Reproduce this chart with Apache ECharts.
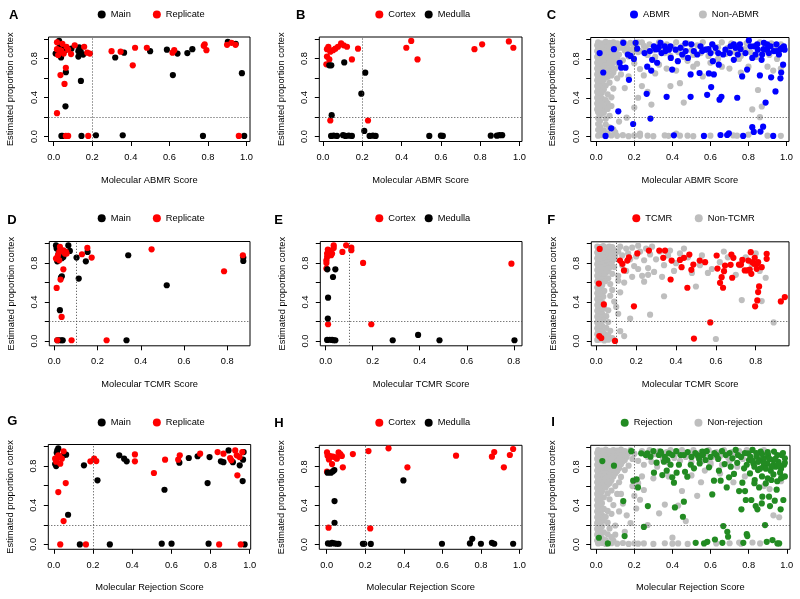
<!DOCTYPE html>
<html lang="en">
<head>
<meta charset="UTF-8">
<title>Estimated proportion cortex vs molecular scores</title>
<script src="https://cdn.jsdelivr.net/npm/echarts@6/dist/echarts.min.js"></script>
<style>
    body { margin: 0; background: #fff; }
    #chart { width: 800px; height: 599px; }
</style>
</head>
<body>
<div id="chart"></div>
<script type="text/javascript">
// values, [score, proportion cortex]
// A
var abmrMain = [[0.01,0.85],[0.028,0.98],[0.035,0.95],[0.031,0.92],[0.038,0.81],[0.049,0.9],[0.059,0.885],[0.063,0.66],[0.061,0.31],[0.092,0.9],[0.128,0.875],[0.132,0.915],[0.128,0.82],[0.141,0.57],[0.153,0.84],[0.14,0.87],[0.04,0.007],[0.046,0.007],[0.144,0.007],[0.219,0.014],[0.319,0.81],[0.358,0.014],[0.365,0.86],[0.5,0.875],[0.587,0.89],[0.618,0.63],[0.642,0.85],[0.693,0.855],[0.719,0.895],[0.774,0.007],[0.903,0.97],[0.944,0.95],[0.976,0.65],[0.988,0.007]];
var abmrRep = [[0.017,0.965],[0.017,0.895],[0.023,0.835],[0.038,0.88],[0.052,0.85],[0.045,0.95],[0.075,0.89],[0.066,0.92],[0.09,0.845],[0.109,0.935],[0.035,0.63],[0.063,0.705],[0.056,0.54],[0.017,0.24],[0.063,0.007],[0.075,0.007],[0.179,0.007],[0.158,0.92],[0.174,0.86],[0.188,0.85],[0.031,0.885],[0.3,0.875],[0.347,0.87],[0.41,0.73],[0.422,0.91],[0.483,0.91],[0.616,0.86],[0.625,0.885],[0.778,0.93],[0.783,0.945],[0.792,0.885],[0.899,0.94],[0.922,0.96],[0.943,0.94],[0.96,0.007]];
// B
var abmrCortex = [[0.02,0.895],[0.027,0.92],[0.02,0.82],[0.017,0.74],[0.032,0.79],[0.037,0.87],[0.051,0.885],[0.063,0.9],[0.076,0.92],[0.092,0.955],[0.105,0.935],[0.122,0.92],[0.147,0.79],[0.178,0.9],[0.037,0.165],[0.229,0.165],[0.424,0.91],[0.449,0.98],[0.481,0.79],[0.771,0.895],[0.81,0.945],[0.946,0.975],[0.969,0.91]];
var abmrMedulla = [[0.032,0.73],[0.042,0.73],[0.108,0.76],[0.215,0.655],[0.195,0.44],[0.044,0.22],[0.21,0.058],[0.041,0.007],[0.054,0.01],[0.071,0.007],[0.102,0.015],[0.114,0.007],[0.131,0.01],[0.147,0.007],[0.237,0.007],[0.254,0.01],[0.268,0.007],[0.541,0.007],[0.6,0.01],[0.61,0.007],[0.854,0.01],[0.885,0.01],[0.898,0.015],[0.912,0.015]];
// C
var abmrYes = [[0.018,0.86],[0.037,0.66],[0.049,0.007],[0.079,0.086],[0.093,0.9],[0.123,0.76],[0.116,0.26],[0.131,0.71],[0.142,0.965],[0.154,0.71],[0.166,0.845],[0.172,0.585],[0.18,0.83],[0.194,0.13],[0.207,0.965],[0.215,0.905],[0.198,0.8],[0.265,0.44],[0.254,0.86],[0.268,0.72],[0.282,0.88],[0.285,0.186],[0.289,0.68],[0.294,0.79],[0.303,0.93],[0.312,0.9],[0.32,0.76],[0.329,0.92],[0.338,0.965],[0.343,0.86],[0.364,0.88],[0.37,0.41],[0.382,0.895],[0.39,0.93],[0.392,0.81],[0.399,0.69],[0.408,0.014],[0.417,0.895],[0.429,0.776],[0.443,0.914],[0.452,0.845],[0.469,0.96],[0.482,0.81],[0.496,0.64],[0.496,0.41],[0.513,0.88],[0.531,0.845],[0.543,0.655],[0.548,0.93],[0.557,0.88],[0.566,0.007],[0.574,0.895],[0.583,0.43],[0.592,0.65],[0.601,0.86],[0.604,0.51],[0.613,0.776],[0.618,0.64],[0.627,0.914],[0.641,0.86],[0.644,0.74],[0.648,0.38],[0.653,0.017],[0.658,0.41],[0.667,0.845],[0.679,0.895],[0.688,0.017],[0.697,0.034],[0.702,0.86],[0.706,0.93],[0.723,0.79],[0.732,0.914],[0.741,0.4],[0.744,0.845],[0.755,0.95],[0.767,0.62],[0.772,0.007],[0.784,0.86],[0.793,0.69],[0.802,0.99],[0.811,0.93],[0.82,0.097],[0.828,0.048],[0.82,0.81],[0.837,0.845],[0.846,0.95],[0.849,0.895],[0.86,0.63],[0.863,0.052],[0.869,0.79],[0.872,0.845],[0.877,0.103],[0.881,0.965],[0.89,0.35],[0.898,0.895],[0.907,0.86],[0.916,0.93],[0.919,0.61],[0.93,0.007],[0.933,0.88],[0.942,0.465],[0.947,0.95],[0.96,0.845],[0.968,0.6],[0.972,0.66],[0.977,0.914],[0.982,0.74],[0.986,0.93],[0.99,0.895],[0.723,0.95],[0.758,0.9],[0.83,0.93],[0.898,0.95],[0.968,0.9],[0.95,0.88],[0.88,0.9],[0.61,0.95],[0.59,0.9],[0.5,0.95],[0.47,0.88],[0.36,0.93],[0.32,0.9]];
var abmrNo = [[0.01,0.97],[0.03,0.96],[0.05,0.975],[0.07,0.965],[0.09,0.97],[0.11,0.96],[0.14,0.975],[0.18,0.965],[0.22,0.97],
  [0.005,0.94],[0.02,0.935],[0.04,0.945],[0.06,0.93],[0.08,0.94],[0.1,0.935],[0.12,0.945],[0.16,0.93],[0.2,0.94],[0.25,0.935],
  [0.01,0.91],[0.03,0.905],[0.05,0.915],[0.07,0.9],[0.09,0.91],[0.11,0.905],[0.13,0.915],[0.19,0.9],
  [0.005,0.88],[0.02,0.875],[0.04,0.885],[0.06,0.87],[0.08,0.88],[0.1,0.875],[0.15,0.885],[0.22,0.87],
  [0.01,0.85],[0.03,0.845],[0.05,0.855],[0.07,0.84],[0.09,0.85],[0.12,0.845],
  [0.005,0.82],[0.02,0.815],[0.04,0.825],[0.06,0.81],[0.08,0.82],[0.11,0.815],[0.17,0.825],
  [0.01,0.79],[0.03,0.785],[0.05,0.795],[0.07,0.78],[0.1,0.79],[0.14,0.785],
  [0.005,0.76],[0.02,0.755],[0.04,0.765],[0.06,0.75],[0.09,0.76],[0.2,0.755],
  [0.01,0.73],[0.03,0.725],[0.05,0.735],[0.08,0.72],[0.12,0.73],
  [0.005,0.7],[0.02,0.695],[0.04,0.705],[0.07,0.69],[0.1,0.7],[0.23,0.695],
  [0.01,0.67],[0.03,0.665],[0.06,0.675],[0.09,0.66],
  [0.005,0.64],[0.02,0.635],[0.05,0.645],[0.08,0.63],[0.13,0.64],
  [0.01,0.61],[0.03,0.605],[0.06,0.615],[0.11,0.6],
  [0.005,0.58],[0.02,0.575],[0.04,0.585],[0.01,0.55],[0.03,0.545],[0.07,0.555],
  [0.005,0.52],[0.02,0.515],[0.05,0.525],[0.01,0.49],[0.04,0.485],[0.09,0.495],
  [0.005,0.46],[0.03,0.455],[0.01,0.43],[0.02,0.425],[0.06,0.435],
  [0.005,0.4],[0.03,0.395],[0.08,0.405],[0.01,0.37],[0.02,0.365],[0.05,0.375],
  [0.005,0.34],[0.03,0.335],[0.06,0.345],[0.01,0.31],[0.04,0.305],[0.08,0.315],
  [0.005,0.28],[0.02,0.275],[0.06,0.285],[0.01,0.25],[0.04,0.245],
  [0.02,0.22],[0.07,0.215],[0.01,0.19],[0.05,0.185],[0.16,0.195],
  [0.02,0.16],[0.12,0.155],[0.01,0.13],[0.05,0.125],[0.02,0.1],[0.07,0.095],
  [0.01,0.07],[0.04,0.065],[0.09,0.075],[0.02,0.04],[0.06,0.035],[0.1,0.045],
  [0.01,0.01],[0.03,0.015],[0.05,0.005],[0.08,0.012],[0.11,0.008],[0.14,0.015],[0.17,0.005],[0.2,0.012],[0.23,0.008],[0.27,0.01],[0.3,0.005],[0.36,0.012],[0.38,0.008],[0.44,0.01],[0.51,0.005],[0.6,0.01],[0.72,0.012],[0.97,0.008],
  [0.27,0.46],[0.29,0.33],[0.31,0.65],[0.37,0.7],[0.39,0.52],[0.44,0.55],[0.46,0.35],[0.42,0.68],[0.51,0.72],[0.56,0.62],[0.6,0.76],[0.66,0.72],[0.7,0.7],[0.76,0.66],[0.8,0.72],[0.82,0.28],[0.85,0.48],[0.86,0.2],[0.87,0.31],[0.9,0.72],[0.93,0.68],[0.97,0.7],[0.24,0.52],[0.22,0.4],[0.2,0.3],[0.15,0.5],[0.17,0.62],[0.25,0.63],[0.33,0.74],[0.48,0.78],[0.53,0.75],[0.64,0.8],[0.75,0.8],[0.95,0.8],[0.74,0.01],[0.8,0.02],[0.9,0.01],[0.42,0.03],[0.48,0.01],[0.23,0.03],
  [0.15,0.96],[0.17,0.9],[0.19,0.86],[0.21,0.93],[0.23,0.88],[0.24,0.97],[0.26,0.91],[0.27,0.84],[0.28,0.95],[0.3,0.89],[0.31,0.82],[0.33,0.97],[0.34,0.91],[0.36,0.86],[0.37,0.95],[0.39,0.83],[0.4,0.92],[0.42,0.97],[0.43,0.87],[0.45,0.93],[0.46,0.82],[0.48,0.96],[0.5,0.89],[0.51,0.84],[0.53,0.94],[0.55,0.86],[0.56,0.97],[0.58,0.9],[0.59,0.83],[0.61,0.95],[0.63,0.88],[0.64,0.92],[0.66,0.97],[0.68,0.85],[0.69,0.91],[0.71,0.96],[0.73,0.87],[0.74,0.93],[0.76,0.83],[0.78,0.9],[0.79,0.96],[0.81,0.87],[0.83,0.93],[0.84,0.82],[0.86,0.97],[0.88,0.88],[0.89,0.93],[0.91,0.84],[0.92,0.96],[0.94,0.9],[0.96,0.86],[0.97,0.95],[0.98,0.91]];
// D
var tcmrMain = [[0.008,0.98],[0.011,0.947],[0.014,0.817],[0.02,0.896],[0.018,0.86],[0.023,0.93],[0.014,0.007],[0.023,0.007],[0.034,0.007],[0.039,0.007],[0.026,0.315],[0.031,0.65],[0.035,0.663],[0.035,0.848],[0.042,0.862],[0.065,0.98],[0.072,0.923],[0.103,0.855],[0.113,0.64],[0.146,0.817],[0.154,0.913],[0.342,0.879],[0.334,0.007],[0.52,0.571],[0.874,0.855],[0.874,0.82]];
var tcmrRep = [[0.011,0.544],[0.014,0.007],[0.017,0.879],[0.026,0.964],[0.023,0.913],[0.029,0.629],[0.034,0.246],[0.042,0.735],[0.042,0.93],[0.049,0.896],[0.054,0.913],[0.057,0.896],[0.08,0.007],[0.128,0.889],[0.153,0.954],[0.173,0.855],[0.242,0.007],[0.45,0.94],[0.785,0.715],[0.872,0.879],[0.014,0.855],[0.023,0.827],[0.008,0.845]];
// E
var tcmrCortex = [[0.003,0.742],[0.003,0.8],[0.003,0.827],[0.006,0.896],[0.009,0.937],[0.013,0.879],[0.02,0.903],[0.027,0.896],[0.034,0.981],[0.034,0.954],[0.071,0.913],[0.087,0.981],[0.109,0.957],[0.109,0.93],[0.159,0.8],[0.01,0.171],[0.194,0.171],[0.79,0.793],[0.006,0.862],[0.013,0.93],[0.023,0.879]];
var tcmrMedulla = [[0.007,0.735],[0.041,0.735],[0.031,0.656],[0.01,0.444],[0.009,0.229],[0.006,0.01],[0.017,0.012],[0.027,0.01],[0.034,0.007],[0.041,0.007],[0.285,0.007],[0.393,0.062],[0.484,0.007],[0.803,0.007]];
// F
var tcmrYes = [[0.017,0.947],[0.038,0.376],[0.094,0.0],[0.119,0.827],[0.131,0.793],[0.139,0.725],[0.156,0.827],[0.164,0.86],[0.189,0.356],[0.206,0.9],[0.264,0.93],[0.316,0.93],[0.336,0.855],[0.345,0.93],[0.373,0.632],[0.378,0.827],[0.42,0.834],[0.428,0.759],[0.44,0.855],[0.457,0.547],[0.467,0.889],[0.477,0.732],[0.487,0.786],[0.49,0.024],[0.519,0.827],[0.546,0.81],[0.572,0.19],[0.604,0.879],[0.608,0.745],[0.621,0.598],[0.629,0.656],[0.636,0.547],[0.641,0.718],[0.646,0.776],[0.674,0.783],[0.678,0.889],[0.682,0.65],[0.688,0.855],[0.716,0.786],[0.726,0.786],[0.733,0.834],[0.745,0.725],[0.758,0.725],[0.763,0.827],[0.77,0.735],[0.775,0.913],[0.778,0.69],[0.783,0.81],[0.792,0.793],[0.795,0.855],[0.797,0.356],[0.805,0.793],[0.805,0.742],[0.812,0.81],[0.812,0.503],[0.817,0.561],[0.808,0.417],[0.83,0.759],[0.855,0.896],[0.855,0.845],[0.926,0.407],[0.946,0.451],[0.013,0.59],[0.015,0.05],[0.025,0.03]];
var tcmrNo = [[0.005,0.97],[0.02,0.965],[0.035,0.975],[0.05,0.96],[0.065,0.97],[0.08,0.965],
  [0.01,0.94],[0.025,0.935],[0.04,0.945],[0.055,0.93],[0.07,0.94],[0.09,0.935],
  [0.005,0.91],[0.02,0.905],[0.035,0.915],[0.05,0.9],[0.065,0.91],[0.085,0.905],[0.1,0.915],
  [0.01,0.88],[0.025,0.875],[0.04,0.885],[0.06,0.87],[0.075,0.88],[0.095,0.875],
  [0.005,0.85],[0.02,0.845],[0.035,0.855],[0.05,0.84],[0.07,0.85],[0.09,0.845],
  [0.01,0.82],[0.025,0.815],[0.045,0.825],[0.06,0.81],[0.08,0.82],
  [0.005,0.79],[0.02,0.785],[0.035,0.795],[0.055,0.78],[0.075,0.79],
  [0.01,0.76],[0.025,0.755],[0.045,0.765],[0.065,0.75],[0.09,0.76],
  [0.005,0.73],[0.02,0.725],[0.04,0.735],[0.06,0.72],
  [0.01,0.7],[0.03,0.695],[0.05,0.705],[0.08,0.69],
  [0.005,0.67],[0.02,0.665],[0.04,0.675],[0.01,0.64],[0.03,0.635],[0.06,0.645],
  [0.005,0.61],[0.02,0.605],[0.045,0.615],[0.01,0.58],[0.03,0.575],[0.07,0.585],
  [0.005,0.55],[0.025,0.545],[0.01,0.52],[0.04,0.515],[0.08,0.525],
  [0.005,0.49],[0.02,0.485],[0.01,0.46],[0.035,0.455],[0.07,0.465],
  [0.005,0.43],[0.02,0.425],[0.01,0.4],[0.03,0.395],[0.09,0.405],
  [0.005,0.37],[0.02,0.365],[0.01,0.34],[0.04,0.335],
  [0.005,0.31],[0.025,0.305],[0.06,0.315],[0.01,0.28],[0.03,0.275],
  [0.005,0.25],[0.02,0.245],[0.05,0.255],[0.01,0.22],[0.035,0.215],
  [0.005,0.19],[0.02,0.185],[0.06,0.195],[0.01,0.16],[0.03,0.155],
  [0.005,0.13],[0.02,0.125],[0.05,0.135],[0.01,0.1],[0.03,0.095],[0.07,0.105],
  [0.005,0.07],[0.02,0.065],[0.04,0.075],[0.06,0.06],
  [0.01,0.04],[0.03,0.035],[0.05,0.045],[0.08,0.03],
  [0.005,0.01],[0.02,0.015],[0.04,0.005],[0.06,0.012],[0.09,0.008],
  [0.11,0.92],[0.12,0.97],[0.13,0.88],[0.15,0.95],[0.16,0.9],[0.17,0.84],[0.18,0.96],[0.19,0.77],[0.2,0.87],[0.21,0.98],[0.22,0.92],[0.23,0.67],[0.24,0.83],[0.25,0.95],[0.26,0.75],[0.27,0.89],[0.28,0.97],[0.29,0.71],[0.3,0.84],[0.32,0.92],[0.33,0.66],[0.34,0.78],[0.36,0.88],[0.37,0.93],[0.39,0.72],[0.4,0.8],[0.42,0.9],[0.44,0.95],[0.46,0.86],[0.48,0.7],[0.5,0.56],[0.52,0.78],[0.53,0.88],[0.56,0.7],[0.58,0.74],[0.6,0.02],[0.62,0.81],[0.64,0.92],[0.66,0.86],[0.7,0.68],[0.72,0.78],[0.73,0.42],[0.75,0.86],[0.78,0.79],[0.8,0.9],[0.82,0.72],[0.83,0.41],[0.85,0.65],[0.89,0.19],
  [0.11,0.28],[0.12,0.1],[0.14,0.05],[0.17,0.23],[0.27,0.27],[0.34,0.46],[0.14,0.6],[0.12,0.5],[0.15,0.72],[0.13,0.78],[0.11,0.67],[0.1,0.35],[0.11,0.62],[0.18,0.66],[0.21,0.74],[0.24,0.61],[0.26,0.68]];
// G
var rejMain = [[0.012,0.8],[0.015,0.936],[0.018,0.96],[0.023,0.98],[0.05,0.91],[0.063,0.916],[0.073,0.303],[0.133,0.0],[0.154,0.807],[0.223,0.654],[0.286,0.0],[0.334,0.909],[0.359,0.875],[0.372,0.848],[0.551,0.007],[0.565,0.558],[0.601,0.007],[0.641,0.834],[0.689,0.882],[0.734,0.9],[0.785,0.626],[0.795,0.892],[0.79,0.007],[0.853,0.848],[0.866,0.84],[0.892,0.96],[0.914,0.84],[0.949,0.807],[0.964,0.647],[0.966,0.865],[0.969,0.943],[0.974,0.0],[0.007,0.82]];
var rejRep = [[0.007,0.875],[0.012,0.845],[0.018,0.89],[0.029,0.9],[0.033,0.824],[0.041,0.875],[0.05,0.95],[0.023,0.91],[0.023,0.534],[0.033,0.0],[0.05,0.238],[0.061,0.626],[0.164,0.0],[0.187,0.848],[0.206,0.875],[0.217,0.851],[0.414,0.919],[0.414,0.848],[0.511,0.729],[0.568,0.865],[0.635,0.865],[0.643,0.909],[0.747,0.926],[0.844,0.0],[0.836,0.943],[0.866,0.926],[0.9,0.882],[0.906,0.858],[0.926,0.96],[0.934,0.909],[0.937,0.705],[0.948,0.892],[0.954,0.0],[0.962,0.943]];
// H
var rejCortex = [[0.002,0.749],[0.002,0.947],[0.005,0.913],[0.012,0.875],[0.019,0.91],[0.028,0.827],[0.033,0.903],[0.045,0.896],[0.053,0.882],[0.062,0.947],[0.071,0.93],[0.079,0.91],[0.084,0.793],[0.01,0.172],[0.136,0.93],[0.217,0.961],[0.226,0.165],[0.321,0.989],[0.419,0.793],[0.671,0.913],[0.857,0.903],[0.869,0.951],[0.919,0.793],[0.95,0.92],[0.967,0.982]];
var rejMedulla = [[0.005,0.738],[0.022,0.738],[0.033,0.752],[0.04,0.766],[0.041,0.446],[0.041,0.223],[0.007,0.01],[0.019,0.007],[0.028,0.017],[0.04,0.01],[0.053,0.007],[0.062,0.007],[0.188,0.007],[0.195,0.007],[0.229,0.005],[0.398,0.659],[0.598,0.007],[0.743,0.01],[0.755,0.058],[0.8,0.007],[0.857,0.017],[0.869,0.007],[0.967,0.007]];
// I
var rejYes = [[0.032,0.858],[0.014,0.069],[0.061,0.01],[0.093,0.81],[0.142,0.446],[0.149,0.086],[0.194,0.656],[0.212,0.67],[0.219,0.587],[0.184,0.96],[0.25,0.18],[0.271,0.395],[0.236,0.937],[0.268,0.937],[0.285,0.903],[0.303,0.738],[0.317,0.841],[0.329,0.92],[0.338,0.955],[0.347,0.714],[0.355,0.851],[0.37,0.759],[0.373,0.869],[0.382,0.937],[0.39,0.82],[0.399,0.69],[0.408,0.635],[0.413,0.381],[0.422,0.738],[0.434,0.82],[0.443,0.92],[0.455,0.285],[0.46,0.44],[0.466,0.748],[0.478,0.697],[0.496,0.82],[0.513,0.783],[0.522,0.017],[0.531,0.92],[0.543,0.834],[0.557,0.955],[0.566,0.01],[0.574,0.869],[0.583,0.027],[0.592,0.793],[0.609,0.515],[0.618,0.656],[0.623,0.051],[0.632,0.92],[0.644,0.759],[0.653,0.656],[0.662,0.017],[0.667,0.189],[0.674,0.827],[0.685,0.587],[0.688,0.13],[0.692,0.079],[0.697,0.69],[0.706,0.8],[0.715,0.886],[0.723,0.725],[0.732,0.972],[0.744,0.92],[0.75,0.549],[0.762,0.361],[0.767,0.635],[0.772,0.017],[0.776,0.783],[0.781,0.549],[0.785,0.457],[0.79,0.106],[0.793,0.086],[0.797,0.937],[0.802,0.869],[0.807,0.731],[0.814,0.457],[0.82,0.972],[0.825,0.834],[0.832,0.663],[0.837,0.395],[0.842,0.903],[0.846,0.361],[0.849,0.765],[0.855,0.587],[0.86,0.869],[0.863,0.955],[0.869,0.422],[0.872,0.491],[0.877,0.8],[0.881,0.886],[0.886,0.199],[0.89,0.628],[0.895,0.027],[0.898,0.834],[0.902,0.92],[0.907,0.491],[0.912,0.395],[0.916,0.759],[0.919,0.663],[0.925,0.045],[0.93,0.869],[0.933,0.955],[0.937,0.45],[0.942,0.8],[0.947,0.563],[0.951,0.01],[0.956,0.851],[0.96,0.01],[0.965,0.738],[0.968,0.361],[0.972,0.92],[0.977,0.69],[0.982,0.457],[0.986,0.82],[0.99,0.886],
  [0.81,0.9],[0.83,0.8],[0.85,0.85],[0.87,0.93],[0.89,0.78],[0.91,0.88],[0.93,0.82],[0.95,0.92],[0.97,0.78],[0.99,0.84],[0.82,0.86],[0.84,0.94],[0.86,0.78],[0.88,0.84],[0.9,0.95],[0.92,0.8],[0.94,0.88],[0.96,0.82],[0.98,0.94],[0.76,0.9],[0.78,0.94],[0.79,0.82],[0.74,0.84],[0.7,0.94],[0.68,0.92],[0.66,0.96],[0.64,0.88],[0.62,0.94],[0.6,0.9],[0.58,0.96],[0.56,0.92],[0.54,0.88],[0.52,0.94],[0.5,0.9],[0.48,0.95],[0.46,0.92],[0.42,0.96],[0.4,0.92],[0.36,0.9],[0.34,0.94],[0.3,0.96],[0.26,0.92],[0.83,0.63],[0.87,0.7],[0.9,0.68],[0.93,0.72],[0.95,0.65],[0.97,0.68],[0.99,0.7]];
var rejNo = [[0.01,0.97],[0.03,0.965],[0.05,0.975],[0.07,0.96],[0.09,0.97],[0.11,0.965],[0.13,0.975],[0.15,0.96],[0.18,0.97],
  [0.005,0.94],[0.02,0.935],[0.04,0.945],[0.06,0.93],[0.08,0.94],[0.1,0.935],[0.12,0.945],[0.14,0.93],[0.17,0.94],[0.2,0.935],
  [0.01,0.91],[0.03,0.905],[0.05,0.915],[0.07,0.9],[0.09,0.91],[0.11,0.905],[0.13,0.915],[0.16,0.9],
  [0.005,0.88],[0.02,0.875],[0.04,0.885],[0.06,0.87],[0.08,0.88],[0.1,0.875],[0.12,0.885],[0.15,0.87],[0.19,0.88],
  [0.01,0.85],[0.03,0.845],[0.05,0.855],[0.07,0.84],[0.09,0.85],[0.11,0.845],[0.14,0.855],
  [0.005,0.82],[0.02,0.815],[0.04,0.825],[0.06,0.81],[0.08,0.82],[0.1,0.815],[0.13,0.825],[0.17,0.81],
  [0.01,0.79],[0.03,0.785],[0.05,0.795],[0.07,0.78],[0.09,0.79],[0.12,0.785],
  [0.005,0.76],[0.02,0.755],[0.04,0.765],[0.06,0.75],[0.08,0.76],[0.11,0.755],[0.15,0.765],
  [0.01,0.73],[0.03,0.725],[0.05,0.735],[0.07,0.72],[0.1,0.73],
  [0.005,0.7],[0.02,0.695],[0.04,0.705],[0.06,0.69],[0.09,0.7],[0.13,0.695],
  [0.01,0.67],[0.03,0.665],[0.05,0.675],[0.08,0.66],
  [0.005,0.64],[0.02,0.635],[0.04,0.645],[0.07,0.63],[0.12,0.64],
  [0.01,0.61],[0.03,0.605],[0.06,0.615],[0.1,0.6],
  [0.005,0.58],[0.02,0.575],[0.05,0.585],[0.01,0.55],[0.03,0.545],[0.08,0.555],
  [0.005,0.52],[0.02,0.515],[0.06,0.525],[0.11,0.52],[0.01,0.49],[0.04,0.485],
  [0.005,0.46],[0.02,0.455],[0.07,0.465],[0.01,0.43],[0.03,0.425],
  [0.005,0.4],[0.02,0.395],[0.09,0.405],[0.01,0.37],[0.04,0.365],
  [0.005,0.34],[0.02,0.335],[0.06,0.345],[0.12,0.34],[0.01,0.31],[0.03,0.305],[0.08,0.315],
  [0.005,0.28],[0.02,0.275],[0.05,0.285],[0.01,0.25],[0.04,0.245],
  [0.005,0.22],[0.02,0.215],[0.06,0.225],[0.01,0.19],[0.03,0.185],[0.1,0.195],
  [0.005,0.16],[0.02,0.155],[0.07,0.165],[0.01,0.13],[0.04,0.125],
  [0.005,0.1],[0.02,0.095],[0.06,0.105],[0.1,0.1],[0.01,0.07],[0.03,0.065],[0.08,0.075],
  [0.005,0.04],[0.02,0.035],[0.05,0.045],[0.09,0.04],
  [0.01,0.01],[0.03,0.015],[0.05,0.005],[0.08,0.012],[0.11,0.008],[0.14,0.015],[0.17,0.005],[0.2,0.012],[0.22,0.008],[0.25,0.01],[0.3,0.005],[0.36,0.012],[0.4,0.008],[0.43,0.01],[0.48,0.005],[0.63,0.01],[0.7,0.012],[0.76,0.008],[0.86,0.01],
  [0.13,0.52],[0.14,0.42],[0.16,0.3],[0.18,0.22],[0.15,0.13],[0.2,0.5],[0.21,0.37],[0.19,0.6],[0.22,0.63],[0.24,0.7],[0.23,0.46],[0.27,0.2],[0.25,0.56],[0.3,0.68],[0.33,0.32],[0.36,0.41],[0.38,0.7],[0.4,0.07],[0.43,0.4],[0.45,0.55],[0.47,0.24],[0.5,0.71],[0.53,0.5],[0.55,0.64],[0.57,0.76],[0.6,0.82],[0.65,0.73],[0.72,0.64],[0.75,0.02],[0.78,0.7],[0.82,0.02],[0.88,0.6],[0.91,0.57],[0.93,0.3],[0.96,0.28],[0.97,0.65],
  [0.2,0.93],[0.22,0.86],[0.24,0.96],[0.25,0.82],[0.27,0.9],[0.28,0.97],[0.29,0.85],[0.31,0.93],[0.32,0.8],[0.33,0.96],[0.35,0.88],[0.37,0.95],[0.38,0.84],[0.39,0.97],[0.41,0.89],[0.43,0.94],[0.44,0.86],[0.45,0.97],[0.47,0.9],[0.49,0.93],[0.5,0.85],[0.51,0.97],[0.53,0.91],[0.55,0.95],[0.56,0.86],[0.57,0.93],[0.59,0.97],[0.61,0.9],[0.63,0.95],[0.65,0.91],[0.67,0.97],[0.69,0.9],[0.71,0.95],[0.73,0.92],[0.75,0.96],[0.77,0.88],[0.79,0.97],[0.8,0.93],[0.82,0.97],[0.85,0.92],[0.88,0.97],[0.6,0.84],[0.66,0.82],[0.7,0.86],[0.74,0.8]];

var xTicks10 = [0, 0.2, 0.4, 0.6, 0.8, 1.0];
var xTicks08 = [0, 0.2, 0.4, 0.6, 0.8];
var yTicks = [0, 0.2, 0.4, 0.6, 0.8, 1.0];
var yLabels = [0, 0.4, 0.8];
var cutY = 0.2;

var RED = '#ff0000', BLACK = '#000000', BLUE = '#0000ff', GRAY = '#bebebe', GREEN = '#228b22';
var FONT = 'Liberation Sans, Arial, sans-serif';

// layout of the 3x3 panels: box [left, top, width, height], x range, letter/legend spots
var panels = [
    {letter: 'A', box: [48.5, 37, 201.5, 104.5], x: [-0.027, 1.018], xt: xTicks10, cut: 0.2, xname: 'Molecular ABMR Score',
        series: [['Main', abmrMain, BLACK], ['Replicate', abmrRep, RED]], legend: ['Main', 'Replicate'], lx: 97.7, ly: 14, gap: 22, tx: 9, ty: 14},
    {letter: 'B', box: [319.3, 37, 202.7, 104.5], x: [-0.019, 1.013], xt: xTicks10, cut: 0.2, xname: 'Molecular ABMR Score',
        series: [['Cortex', abmrCortex, RED], ['Medulla', abmrMedulla, BLACK]], legend: ['Cortex', 'Medulla'], lx: 375.3, ly: 14, gap: 9, tx: 296, ty: 14},
    {letter: 'C', box: [590.7, 37.5, 198.3, 104], x: [-0.029, 1.013], xt: xTicks10, cut: 0.2, xname: 'Molecular ABMR Score',
        series: [['Non-ABMR', abmrNo, GRAY], ['ABMR', abmrYes, BLUE]], legend: ['ABMR', 'Non-ABMR'], lx: 630, ly: 14, gap: 29, tx: 546.7, ty: 14},
    {letter: 'D', box: [49.3, 241.5, 200.7, 104.3], x: [-0.023, 0.905], xt: xTicks08, cut: 0.1, xname: 'Molecular TCMR Score',
        series: [['Main', tcmrMain, BLACK], ['Replicate', tcmrRep, RED]], legend: ['Main', 'Replicate'], lx: 97.7, ly: 217.7, gap: 22, tx: 7.3, ty: 219},
    {letter: 'E', box: [320.3, 241.5, 201.7, 104.3], x: [-0.023, 0.835], xt: xTicks08, cut: 0.1, xname: 'Molecular TCMR Score',
        series: [['Cortex', tcmrCortex, RED], ['Medulla', tcmrMedulla, BLACK]], legend: ['Cortex', 'Medulla'], lx: 375.3, ly: 217.7, gap: 9, tx: 274.3, ty: 219},
    {letter: 'F', box: [591.3, 241.8, 197.7, 104], x: [-0.025, 0.967], xt: xTicks08, cut: 0.1, xname: 'Molecular TCMR Score',
        series: [['Non-TCMR', tcmrNo, GRAY], ['TCMR', tcmrYes, RED]], legend: ['TCMR', 'Non-TCMR'], lx: 632.3, ly: 217.7, gap: 22.6, tx: 547.3, ty: 219},
    {letter: 'G', box: [48.3, 444.5, 202.4, 104.8], x: [-0.028, 1.005], xt: xTicks10, cut: 0.2, xname: 'Molecular Rejection Score',
        series: [['Main', rejMain, BLACK], ['Replicate', rejRep, RED]], legend: ['Main', 'Replicate'], lx: 97.7, ly: 422, gap: 22, tx: 7.3, ty: 420},
    {letter: 'H', box: [319.3, 445.3, 202.7, 104], x: [-0.038, 1.013], xt: xTicks10, cut: 0.2, xname: 'Molecular Rejection Score',
        series: [['Cortex', rejCortex, RED], ['Medulla', rejMedulla, BLACK]], legend: ['Cortex', 'Medulla'], lx: 375.3, ly: 422.3, gap: 9, tx: 274.3, ty: 422},
    {letter: 'I', box: [590.7, 445.3, 199.3, 104], x: [-0.029, 1.017], xt: xTicks10, cut: 0.2, xname: 'Molecular Rejection Score',
        series: [['Non-rejection', rejNo, GRAY], ['Rejection', rejYes, GREEN]], legend: ['Rejection', 'Non-rejection'], lx: 620.7, ly: 422.3, gap: 22, tx: 551.3, ty: 421}
];

function oneDecimal(v) {
    return v.toFixed(1);
}

var option = {
    animation: false,
    backgroundColor: '#fff',
    textStyle: {fontFamily: FONT},
    title: [], legend: [], grid: [], xAxis: [], yAxis: [], series: []
};

panels.forEach(function (p, i) {
    option.title.push({
        text: p.letter, left: p.tx, top: p.ty - 5.5, padding: 0,
        textStyle: {fontSize: 13, fontWeight: 'bold', color: '#000', fontFamily: FONT}
    });
    option.legend.push({
        data: p.legend, left: p.lx, top: p.ly - 4, padding: 0, itemGap: p.gap,
        icon: 'circle', itemWidth: 8, itemHeight: 8, selectedMode: false,
        textStyle: {fontSize: 9.3, color: '#000', fontFamily: FONT}
    });
    option.grid.push({
        left: p.box[0], top: p.box[1], width: p.box[2], height: p.box[3],
        show: true, borderColor: '#000', borderWidth: 1, backgroundColor: 'transparent'
    });
    option.xAxis.push({
        type: 'value', gridIndex: i, min: p.x[0], max: p.x[1],
        name: p.xname, nameLocation: 'middle', nameGap: 34,
        nameTextStyle: {fontSize: 9.3, color: '#000', fontFamily: FONT},
        axisLine: {show: false, onZero: false},
        splitLine: {show: false},
        axisTick: {show: true, length: 4.5, lineStyle: {color: '#000'}, customValues: p.xt},
        axisLabel: {fontSize: 9.3, color: '#000', margin: 11.5, customValues: p.xt, formatter: oneDecimal}
    });
    option.yAxis.push({
        type: 'value', gridIndex: i, min: -0.05, max: 1.02,
        name: 'Estimated proportion cortex', nameLocation: 'middle', nameGap: 33.5,
        nameTextStyle: {fontSize: 9.3, color: '#000', fontFamily: FONT},
        axisLine: {show: false, onZero: false},
        splitLine: {show: false},
        axisTick: {show: true, length: 4.5, lineStyle: {color: '#000'}, customValues: yTicks},
        axisLabel: {fontSize: 9.3, color: '#000', margin: 10, rotate: 90, customValues: yLabels, formatter: oneDecimal}
    });
    p.series.forEach(function (s, k) {
        var ser = {
            name: s[0], type: 'scatter', xAxisIndex: i, yAxisIndex: i,
            data: s[1], symbolSize: 6.2, silent: true,
            itemStyle: {color: s[2], opacity: 1}
        };
        if (k === 0) {
            ser.markLine = {
                silent: true, symbol: 'none', label: {show: false},
                lineStyle: {color: '#444', type: [1, 2], width: 1},
                data: [{xAxis: p.cut}, {yAxis: cutY}]
            };
        }
        option.series.push(ser);
    });
});

var chart = echarts.init(document.getElementById('chart'));
chart.setOption(option);
</script>
</body>
</html>
